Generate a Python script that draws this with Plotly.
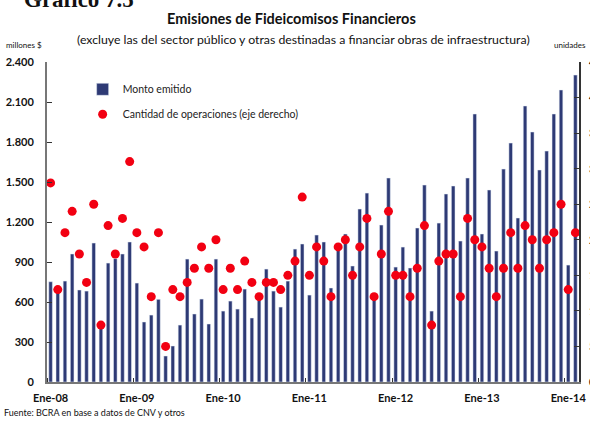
import plotly.graph_objects as go

# Monthly categories Ene-08 .. Feb-14 (74 months)
months = list(range(74))
monto = [752, 705, 757, 960, 690, 682, 1042, 420, 892, 925, 960, 1050,
         742, 450, 502, 620, 195, 270, 427, 922, 510, 622, 435, 922,
         532, 607, 547, 697, 480, 630, 847, 682, 562, 757, 997, 1035,
         652, 1102, 1050, 705, 1015, 1110, 870, 1297, 1417, 630, 1177, 1530,
         862, 1012, 855, 1155, 1477, 532, 1192, 1410, 1470, 1057, 1530, 2010,
         1110, 1440, 982, 1597, 1792, 1230, 2070, 1875, 1590, 1732, 2010, 2190,
         877, 2302]
cantidad = [28, 13, 21, 24, 18, 14, 25, 8, 22, 18, 23, 31,
            21, 19, 12, 21, 5, 13, 12, 14, 16, 19, 16, 20,
            13, 16, 13, 17, 14, 12, 14, 14, 13, 15, 17, 26,
            15, 19, 17, 12, 19, 20, 15, 19, 23, 12, 18, 24,
            15, 15, 12, 16, 22, 8, 17, 18, 18, 12, 23, 20,
            19, 16, 12, 16, 21, 16, 22, 20, 16, 20, 21, 25,
            13, 21]
x_tickvals = [0, 12, 24, 36, 48, 60, 72]
x_ticktext = ["Ene-08", "Ene-09", "Ene-10", "Ene-11", "Ene-12", "Ene-13", "Ene-14"]
y_tickvals = [0, 300, 600, 900, 1200, 1500, 1800, 2100, 2400]
y_ticktext = ["0", "300", "600", "900", "1.200", "1.500", "1.800", "2.100", "2.400"]

FONT = "Lato, 'Open Sans', sans-serif"
BAR = "#2E3A75"
DOT = "#F20012"

fig = go.Figure()
fig.add_trace(go.Bar(x=months, y=monto, name="Monto emitido", marker_color=BAR,
                     width=0.5, yaxis="y", legendgroup="a"))
fig.add_trace(go.Scatter(x=months, y=cantidad, name="Cantidad de operaciones (eje derecho)",
                         mode="markers", marker=dict(color=DOT, size=9), yaxis="y2",
                         legendgroup="b"))

fig.update_layout(
    width=590, height=421,
    margin=dict(l=47, r=11, t=62, b=39, autoexpand=False),
    paper_bgcolor="white", plot_bgcolor="white",
    font=dict(family=FONT, color="#222", size=10),
    showlegend=True,
    legend=dict(x=0.067, y=0.96, xanchor="left", yanchor="top",
                bgcolor="rgba(0,0,0,0)", font=dict(size=10.5, color="#222"),
                itemwidth=30, tracegroupgap=6, traceorder="grouped"),
    xaxis=dict(range=[-0.5, 73.5], tickmode="array", tickvals=x_tickvals, ticktext=x_ticktext,
               ticks="", showgrid=False, zeroline=False, automargin=False,
               showline=True, linecolor="#777", linewidth=2, ticklabelstandoff=5,
               tickfont=dict(size=11, color="#111", family=FONT, weight="bold"),
               minor=dict(tick0=-0.5, dtick=12, ticks="inside", ticklen=4, tickcolor="#333")),
    yaxis=dict(range=[0, 2400], tickmode="array", tickvals=y_tickvals, ticktext=y_ticktext,
               ticks="inside", ticklen=5, tickcolor="#333", showgrid=False, zeroline=False,
               showline=True, linecolor="#777", linewidth=2, automargin=False,
               tickfont=dict(size=11, color="#111", family=FONT, weight="bold"),
               ticklabelstandoff=9),
    yaxis2=dict(range=[0, 45], dtick=5, overlaying="y", side="right", automargin=False,
                ticks="inside", ticklen=5, tickcolor="#333", showgrid=False, zeroline=False,
                showline=True, linecolor="#333", linewidth=1.5, ticklabelstandoff=6,
                tickfont=dict(size=11, color="#111", family=FONT, weight="bold")),
    bargap=0.5,
)

fig.add_annotation(text="<b>Gráfico 7.5</b>", xref="paper", yref="paper",
                   x=-0.047, y=1.195, xanchor="left", yanchor="middle", showarrow=False,
                   font=dict(family="'Liberation Serif', serif", size=23, color="#111"))
fig.add_annotation(text="<b>Emisiones de Fideicomisos Financieros</b>", xref="paper", yref="paper",
                   x=0.459, y=1.137, xanchor="center", yanchor="middle", showarrow=False,
                   font=dict(family=FONT, size=14.5, color="#111"))
fig.add_annotation(text="(excluye las del sector público y otras destinadas a financiar obras de infraestructura)",
                   xref="paper", yref="paper", x=0.482, y=1.07, xanchor="center", yanchor="middle",
                   showarrow=False, font=dict(family=FONT, size=12.3, color="#111"))
fig.add_annotation(text="millones $", xref="paper", yref="paper", x=-0.08, y=1.053,
                   xanchor="left", yanchor="middle", showarrow=False,
                   font=dict(family=FONT, size=8, color="#111"))
fig.add_annotation(text="unidades", xref="paper", yref="paper", x=0.95, y=1.053,
                   xanchor="left", yanchor="middle", showarrow=False,
                   font=dict(family=FONT, size=8, color="#111"))
fig.add_annotation(text="Fuente: BCRA en base a datos de CNV y otros", xref="paper", yref="paper",
                   x=-0.085, y=-0.095, xanchor="left", yanchor="middle", showarrow=False,
                   font=dict(family=FONT, size=9, color="#111"))

fig.write_html("out.html", config={"displayModeBar": False},
               post_script="document.body.style.margin='0';document.body.style.overflow='hidden';")
